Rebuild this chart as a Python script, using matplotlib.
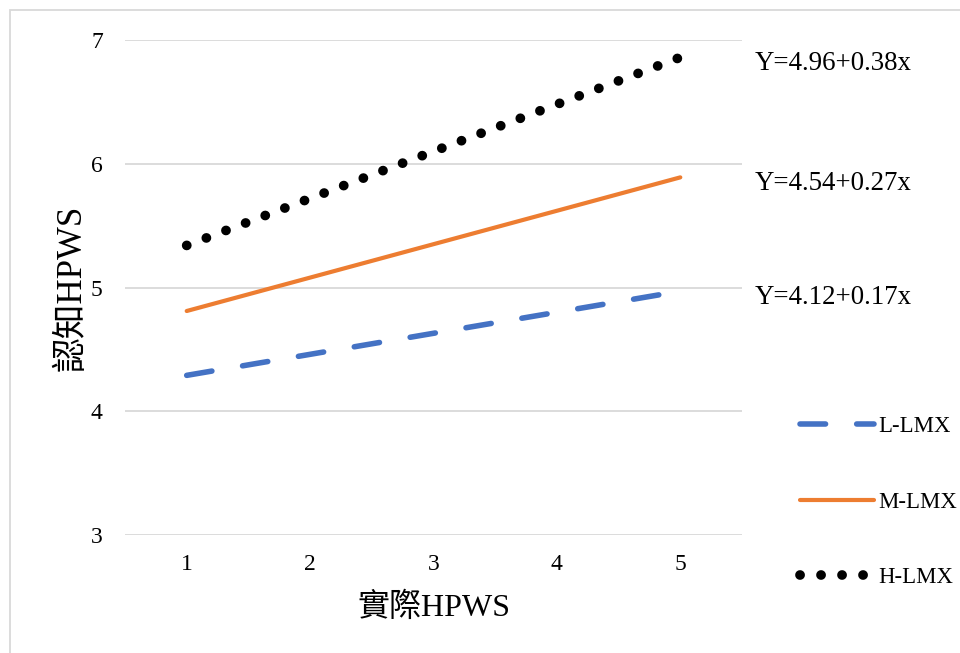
import matplotlib
matplotlib.use("Agg")
import matplotlib.pyplot as plt
import matplotlib.transforms as mtransforms
from matplotlib.patches import Rectangle

plt.rcParams['font.family'] = ['Liberation Serif', 'Noto Sans CJK TC']

x_vals = [1, 2, 3, 4, 5]
x_labels = ['1', '2', '3', '4', '5']
l_lmx = [4.29, 4.46, 4.63, 4.80, 4.97]
m_lmx = [4.81, 5.08, 5.35, 5.62, 5.89]
h_lmx = [5.34, 5.72, 6.10, 6.48, 6.86]
series_names = ['L-LMX', 'M-LMX', 'H-LMX']
equations = ['Y=4.12+0.17x', 'Y=4.54+0.27x', 'Y=4.96+0.38x']
y_ticks = [3, 4, 5, 6, 7]
x_title = '實際HPWS'
y_title = '認知HPWS'

fig = plt.figure(figsize=(9.6, 6.53), dpi=100)
ax = fig.add_axes([125/960, 1-535/653, (742-125)/960, (535-40)/653])

ln_l, = ax.plot(x_vals, l_lmx, color='#4472C4', lw=4.0, linestyle=(0, (4.6, 5.6)),
                dash_capstyle='round', solid_capstyle='round', label=series_names[0])
ln_m, = ax.plot(x_vals, m_lmx, color='#ED7D31', lw=3.0, solid_capstyle='round',
                label=series_names[1])
ln_h, = ax.plot(x_vals, h_lmx, color='black', lw=7.0, linestyle=(0, (0.01, 2.15)),
                dash_capstyle='round', label=series_names[2])

ax.set_xlim(0.5, 5.5)
ax.set_ylim(3, 7)
ax.set_xticks(x_vals)
ax.set_xticklabels(x_labels)
ax.set_yticks(y_ticks)
ax.tick_params(length=0, labelsize=17, colors='black')
ax.tick_params(axis='x', pad=14)
ax.tick_params(axis='y', pad=16)
for s in ax.spines.values():
    s.set_visible(False)
ax.grid(axis='y', color='#D9D9D9', lw=1.3)
ax.set_axisbelow(True)

ax.set_xlabel(x_title, fontsize=23, labelpad=12)
ax.set_ylabel(y_title, fontsize=25, labelpad=2)

trans = mtransforms.blended_transform_factory(ax.transAxes, ax.transData)
ends = [l_lmx[-1], m_lmx[-1], h_lmx[-1]]
for eq, yv in zip(equations, ends):
    ax.text(1.02, yv - 0.05, eq, transform=trans, fontsize=19.4, va='center', ha='left')

leg = fig.legend(handles=[ln_l, ln_m, ln_h], loc='center left',
                 bbox_to_anchor=(791/960, 1-502/653), frameon=False,
                 fontsize=16.4, handlelength=3.25, handletextpad=0.2,
                 labelspacing=2.4, borderaxespad=0)

fig.patches.append(Rectangle((10/960, -0.05), 1.0, 0.05 + (1-10/653),
                             transform=fig.transFigure, fill=False,
                             edgecolor='#D9D9D9', lw=1.3))

fig.savefig('out.png', dpi=100)
